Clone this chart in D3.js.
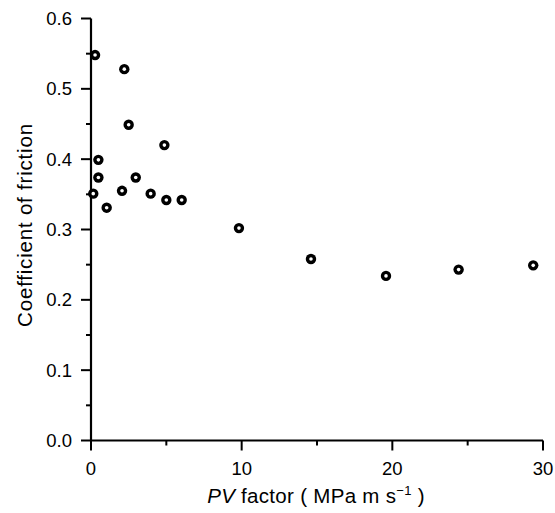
<!DOCTYPE html>
<html><head><meta charset="utf-8">
<script src="https://cdn.jsdelivr.net/npm/d3@7"></script>
<style>body{margin:0;background:#fff}svg{display:block}text{font-family:"Liberation Sans",Arial,sans-serif;fill:#000}</style>
</head><body>
<script>
const pvFactor = [0.27, 2.21, 2.5, 4.87, 0.49, 0.49, 2.97, 0.15, 2.06, 1.04, 3.96, 5.0, 6.02, 9.82, 14.6, 19.58, 24.4, 29.35];
const friction = [0.548, 0.528, 0.449, 0.420, 0.399, 0.374, 0.374, 0.351, 0.355, 0.331, 0.351, 0.342, 0.342, 0.302, 0.258, 0.234, 0.243, 0.249];
const xTicks = [0, 10, 20, 30];
const xMinor = [5, 15, 25];
const yTicks = [0, 0.1, 0.2, 0.3, 0.4, 0.5, 0.6];
const yMinor = [0.05, 0.15, 0.25, 0.35, 0.45, 0.55];

const W = 555, H = 513;
const svg = d3.select("body").append("svg").attr("width", W).attr("height", H);
const x = d3.scaleLinear().domain([0, 30]).range([91, 543]);
const y = d3.scaleLinear().domain([0, 0.6]).range([440.5, 18.5]);

const g = svg.append("g");
g.append("line").attr("x1", x(0)).attr("x2", x(30)).attr("y1", y(0)).attr("y2", y(0)).attr("stroke", "#000").attr("stroke-width", 2.2);
g.append("line").attr("x1", x(0)).attr("x2", x(0)).attr("y1", y(0)).attr("y2", y(0.6)).attr("stroke", "#000").attr("stroke-width", 2.2);

g.selectAll(".xt").data(xTicks).join("line").attr("x1", d => x(d)).attr("x2", d => x(d))
  .attr("y1", y(0)).attr("y2", y(0) + 10).attr("stroke", "#000").attr("stroke-width", 2);
g.selectAll(".xm").data(xMinor).join("line").attr("x1", d => x(d)).attr("x2", d => x(d))
  .attr("y1", y(0)).attr("y2", y(0) + 5).attr("stroke", "#000").attr("stroke-width", 2);
g.selectAll(".xl").data(xTicks).join("text").attr("x", d => x(d)).attr("y", 475)
  .attr("text-anchor", "middle").attr("font-size", 18.5).text(d => d);

g.selectAll(".yt").data(yTicks).join("line").attr("x1", x(0) - 10).attr("x2", x(0))
  .attr("y1", d => y(d)).attr("y2", d => y(d)).attr("stroke", "#000").attr("stroke-width", 2);
g.selectAll(".ym").data(yMinor).join("line").attr("x1", x(0) - 5).attr("x2", x(0))
  .attr("y1", d => y(d)).attr("y2", d => y(d)).attr("stroke", "#000").attr("stroke-width", 2);
g.selectAll(".yl").data(yTicks).join("text").attr("x", 72).attr("y", d => y(d) + 6.5)
  .attr("text-anchor", "end").attr("font-size", 18.5).text(d => d.toFixed(1));

const xt = svg.append("text").attr("x", 316).attr("y", 503).attr("text-anchor", "middle")
  .attr("font-size", 20.5).attr("letter-spacing", 0.3);
xt.append("tspan").attr("font-style", "italic").text("PV");
xt.append("tspan").text(" factor ( MPa m s");
xt.append("tspan").attr("font-size", 13).attr("dy", -8).text("−1");
xt.append("tspan").attr("dy", 8).text(" )");

svg.append("text").attr("transform", "translate(32,225) rotate(-90)").attr("text-anchor", "middle")
  .attr("font-size", 20.5).attr("letter-spacing", 0.8).text("Coefficient of friction");

const pts = svg.selectAll(".pt").data(pvFactor.map((v, i) => [v, friction[i]])).join("g")
  .attr("transform", d => `translate(${x(d[0])},${y(d[1])})`);
pts.append("circle").attr("r", 5.2).attr("fill", "#000");
pts.append("circle").attr("r", 1.8).attr("fill", "#fff");
</script>
</body></html>
